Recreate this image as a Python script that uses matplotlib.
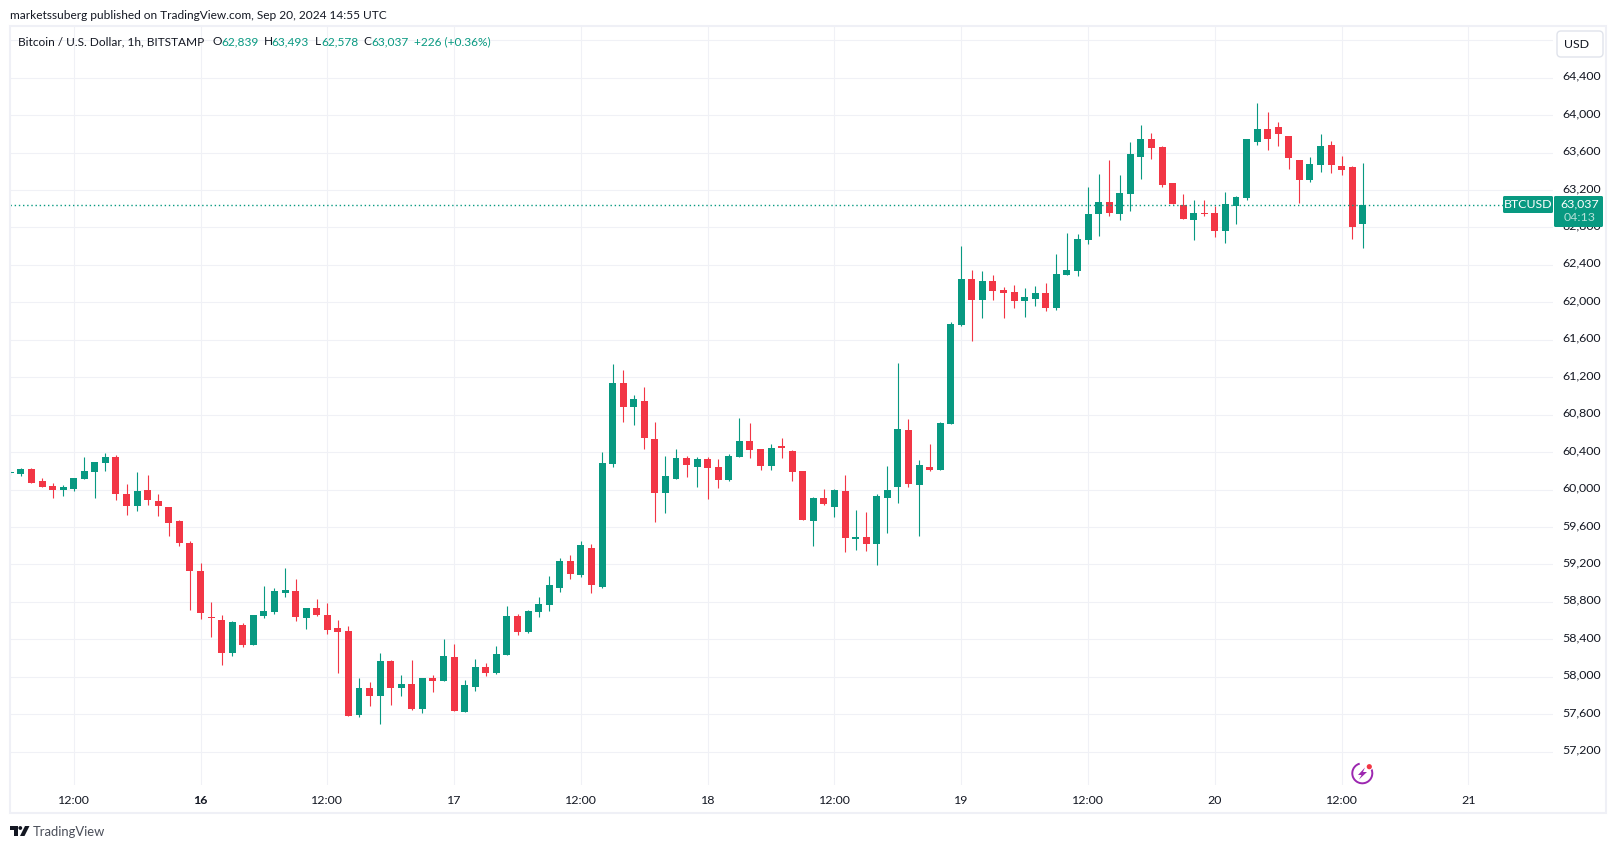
import matplotlib
matplotlib.use("Agg")
import matplotlib.pyplot as plt
from matplotlib.patches import Rectangle, FancyBboxPatch, Circle, Polygon, Arc
from matplotlib.transforms import ScaledTranslation

W, H = 1617, 849
plt.rcParams['font.family'] = ['Lato', 'DejaVu Sans']

UP = '#089981'
DOWN = '#f23645'
GRID = '#f0f1f6'
BORDER = '#eff0f6'
INK = '#131722'
FS = 8.6
TICK_FS = 8.9

opens = [60176, 60162, 60216, 60087, 60034, 59991, 60002, 60109, 60183, 60280,
         60344, 59948, 59820, 59991, 59874, 59810, 59660, 59425, 59126, 58634,
         58602, 58250, 58549, 58335, 58645, 58688, 58891, 58912, 58624, 58731,
         58656, 58516, 58484, 57587, 57875, 57790, 58164, 57875, 57918, 57651,
         57982, 57950, 58206, 57619, 57886, 58100, 58036, 58228, 58644, 58474,
         58687, 58762, 58944, 59232, 59082, 59371, 58954, 60268, 61133, 60877,
         60941, 60535, 59958, 60108, 60332, 60236, 60322, 60236, 60097, 60343,
         60514, 60428, 60247, 60460, 60407, 60193, 59659, 59905, 59809, 59980,
         59467, 59488, 59413, 59905, 60022, 60631, 60044, 60236, 60204, 60695,
         61753, 62245, 62020, 62223, 62127, 62106, 62010, 62031, 62095, 61935,
         62287, 62330, 62662, 62939, 63068, 62939, 63153, 63548, 63741, 63655,
         63270, 63035, 62875, 62950, 62950, 62758, 63025, 63110, 63708, 63847,
         63869, 63773, 63516, 63303, 63463, 63676, 63452, 63441, 62839]
closes = [60183, 60216, 60066, 60023, 59991, 60023, 60119, 60194, 60290, 60344,
          59948, 59820, 59980, 59884, 59820, 59639, 59425, 59126, 58677, 58623,
          58250, 58581, 58335, 58656, 58699, 58912, 58923, 58634, 58731, 58656,
          58496, 58474, 57576, 57875, 57790, 58164, 57875, 57918, 57651, 57982,
          57950, 58217, 57630, 57907, 58100, 58036, 58238, 58644, 58474, 58698,
          58773, 58976, 59232, 59093, 59403, 58976, 60279, 61133, 60877, 60963,
          60546, 59958, 60140, 60332, 60257, 60322, 60225, 60097, 60354, 60514,
          60418, 60247, 60439, 60439, 60183, 59670, 59905, 59841, 59990, 59478,
          59488, 59413, 59926, 59990, 60642, 60054, 60257, 60204, 60706, 61764,
          62245, 62020, 62223, 62116, 62095, 62010, 62052, 62095, 61935, 62298,
          62341, 62672, 62939, 63068, 62950, 63164, 63580, 63741, 63644, 63249,
          63046, 62886, 62950, 62939, 62758, 63046, 63121, 63741, 63847, 63741,
          63794, 63538, 63303, 63473, 63666, 63463, 63409, 62800, 63037]
highs = [60205, 60226, 60226, 60119, 60066, 60045, 60119, 60344, 60290, 60386,
         60365, 60055, 60183, 60151, 59948, 59810, 59671, 59446, 59211, 58795,
         58656, 58592, 58570, 58656, 58966, 58944, 59158, 59040, 58731, 58827,
         58784, 58602, 58538, 57982, 57939, 58249, 58174, 58014, 58174, 57982,
         58014, 58399, 58345, 57961, 58185, 58142, 58324, 58751, 58666, 58709,
         58847, 59072, 59264, 59296, 59446, 59414, 60396, 61336, 61272, 61005,
         61091, 60717, 60354, 60428, 60354, 60343, 60343, 60322, 60375, 60760,
         60706, 60428, 60482, 60546, 60418, 60193, 59916, 60001, 60001, 60151,
         59777, 59755, 59948, 60247, 61347, 60749, 60311, 60482, 60717, 61785,
         62597, 62341, 62330, 62287, 62159, 62181, 62149, 62170, 62202, 62512,
         62736, 62725, 63228, 63367, 63516, 63356, 63709, 63890, 63805, 63666,
         63270, 63153, 63089, 63089, 63025, 63174, 63132, 63741, 64125, 64029,
         63922, 63773, 63516, 63548, 63794, 63719, 63559, 63452, 63493]
lows = [60151, 60141, 60066, 60023, 59906, 59927, 59980, 60109, 59906, 60194,
        59884, 59724, 59767, 59831, 59713, 59500, 59393, 58709, 58613, 58421,
        58122, 58218, 58314, 58335, 58624, 58666, 58848, 58592, 58506, 58645,
        58453, 58036, 57576, 57565, 57683, 57491, 57694, 57790, 57640, 57608,
        57832, 57950, 57630, 57619, 57843, 58003, 58025, 58228, 58441, 58463,
        58634, 58698, 58901, 59040, 59061, 58890, 58944, 60236, 60717, 60685,
        60428, 59649, 59745, 60108, 60129, 60022, 59894, 60012, 60087, 60343,
        60332, 60204, 60204, 60332, 60087, 59670, 59392, 59830, 59702, 59328,
        59349, 59339, 59189, 59531, 59851, 60022, 59499, 60193, 60204, 60695,
        61743, 61582, 61828, 62020, 61828, 61935, 61839, 61956, 61903, 61914,
        62287, 62277, 62619, 62704, 62918, 62875, 62971, 63313, 63527, 63228,
        63046, 62886, 62662, 62918, 62694, 62629, 62832, 63089, 63676, 63623,
        63666, 63420, 63057, 63281, 63388, 63377, 63356, 62672, 62578]

price_ticks = list(range(57200, 64800, 400))
price_grid = list(range(57200, 65200, 400))
time_ticks = [6, 18, 30, 42, 54, 66, 78, 90, 102, 114, 126, 138]
time_labels = ['12:00', '16', '12:00', '17', '12:00', '18', '12:00', '19',
               '12:00', '20', '12:00', '21']
last_price = closes[-1]

fig = plt.figure(figsize=(W / 100, H / 100), dpi=100)

# main pane, x is hours since the first candle
ax = fig.add_axes([10 / W, 1 - 785 / H, 1543 / W, 759 / H])
ax.set_xlim(-0.03, 146.0)
ax.set_ylim(56843, 64952)
for s in ax.spines.values():
    s.set_visible(False)

ax.set_axisbelow(True)
ax.set_yticks(price_grid)
ax.set_yticklabels([f'{p:,}' if p in price_ticks else '' for p in price_grid])
ax.set_xticks(time_ticks)
ax.set_xticklabels(time_labels)
ax.yaxis.tick_right()
ax.tick_params(axis='y', length=0, pad=6.4, labelsize=TICK_FS, labelcolor=INK)
ax.tick_params(axis='x', length=0, pad=7.5, labelsize=TICK_FS, labelcolor=INK)
ax.grid(True, color=GRID, lw=0.8)
for lab in ax.get_xticklabels():
    if lab.get_text() == '16':
        lab.set_fontweight('bold')
up_a_bit = ScaledTranslation(0, 2.5 / 100, fig.dpi_scale_trans)
for lab in ax.get_yticklabels():
    lab.set_transform(lab.get_transform() + up_a_bit)

for i in range(len(opens)):
    col = UP if closes[i] >= opens[i] else DOWN
    ax.vlines(i, lows[i], highs[i], color=col, lw=0.8, zorder=3)
    bottom = min(opens[i], closes[i])
    ax.bar(i, abs(closes[i] - opens[i]), bottom=bottom, width=0.66, color=col,
           linewidth=0, zorder=4)

ax.axhline(last_price, color=UP, lw=1.0, ls=(0, (1, 2)), zorder=5)

# page furniture, drawn in pixel coordinates on top
ov = fig.add_axes([0, 0, 1, 1], zorder=5)
ov.set_xlim(0, W)
ov.set_ylim(H, 0)
ov.axis('off')
ov.patch.set_alpha(0)

ov.add_patch(Rectangle((10, 26), 1596, 787, fc='none', ec=BORDER, lw=1.5))
ov.text(10, 15, 'marketssuberg published on TradingView.com, Sep 20, 2024 14:55 UTC',
        fontsize=FS, color=INK, va='center')

ov.text(18, 41.5, 'Bitcoin / U.S. Dollar, 1h, BITSTAMP', fontsize=FS, color=INK, va='center')
for lx, l, vx, v in [(212, 'O', 221, '62,839'), (263.7, 'H', 271.7, '63,493'),
                     (314.7, 'L', 321, '62,578'), (363.7, 'C', 371, '63,037')]:
    ov.text(lx, 41.5, l, fontsize=FS, color=INK, va='center')
    ov.text(vx, 41.5, v, fontsize=FS, color=UP, va='center')
ov.text(414, 41.5, '+226 (+0.36%)', fontsize=FS, color=UP, va='center')

# USD button
ov.add_patch(FancyBboxPatch((1559, 33), 42, 22, boxstyle='round,pad=2,rounding_size=4',
                            fc='white', ec='#e0e3eb', lw=1.0))
ov.text(1577, 44.5, 'USD', fontsize=TICK_FS, color=INK, ha='center', va='center')

# last price tags
ov.add_patch(FancyBboxPatch((1504, 197), 48, 15, boxstyle='round,pad=1,rounding_size=1.5',
                            fc=UP, ec='none'))
ov.text(1528, 204.5, 'BTCUSD', fontsize=TICK_FS, color='white', ha='center', va='center')
ov.add_patch(FancyBboxPatch((1555, 197), 47, 29, boxstyle='round,pad=1,rounding_size=1.5',
                            fc=UP, ec='none'))
ov.text(1580, 204, '63,037', fontsize=TICK_FS, color='white', ha='center', va='center')
ov.text(1580, 217.5, '04:13', fontsize=TICK_FS, color='#b5e0d8', ha='center', va='center')

# lightning icon
ov.add_patch(Arc((1362.3, 773.3), 20, 20, angle=0, theta1=-25, theta2=290 - 25 - 10,
                 color='#9c27b0', lw=1.4))
ov.add_patch(Polygon([(1365, 767.5), (1358, 775), (1361.5, 775), (1359, 779.5),
                      (1367, 772), (1363, 772)], fc='#9c27b0', ec='none'))
ov.add_patch(Circle((1369.3, 766.7), 3.6, fc='white', ec='none'))
ov.add_patch(Circle((1369.3, 766.7), 2.6, fc=DOWN, ec='none'))

# TradingView mark
LOGO = '#131722'
ov.add_patch(Polygon([(10, 826), (17.5, 826), (17.5, 836), (13.5, 836), (13.5, 830), (10, 830)],
                     fc=LOGO, ec='none'))
ov.add_patch(Circle((20.3, 828), 1.9, fc=LOGO, ec='none'))
ov.add_patch(Polygon([(25, 826), (29.5, 826), (24.5, 836), (20, 836)], fc=LOGO, ec='none'))
ov.text(33, 832, 'TradingView', fontsize=9.4, color='#4a4e59', va='center')

fig.savefig('out.png', dpi=100)
